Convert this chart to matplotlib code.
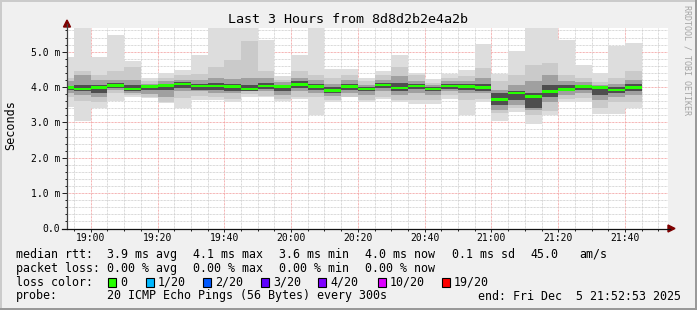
import numpy as np
import pandas as pd
import matplotlib
matplotlib.use('Agg')
import matplotlib.pyplot as plt
import matplotlib.dates as mdates
from matplotlib.patches import Rectangle, Polygon
from matplotlib.lines import Line2D
from matplotlib.ticker import MultipleLocator, FuncFormatter

plt.rcParams['font.family'] = ['DejaVu Sans Mono']

W, H = 697, 310

# ── data (ms) ──────────────────────────────────────────────
# 5-minute bins, start of each bin
bin_start = pd.date_range('2025-12-05 18:50', periods=35, freq='5min')
t_start = pd.Timestamp('2025-12-05 18:52:53')
t_end = pd.Timestamp('2025-12-05 21:52:53')

rtt_max = [4.85, 5.90, 4.85, 5.48, 4.73, 4.25, 4.40, 4.49, 4.91, 5.90,
           5.90, 5.90, 5.34, 4.30, 4.91, 5.90, 4.52, 4.52, 4.27, 4.44,
           4.91, 4.41, 4.24, 4.37, 4.49, 5.23, 4.37, 5.03, 5.90, 5.90,
           5.34, 4.61, 4.40, 5.17, 5.25]
rtt_min = [3.45, 3.03, 3.40, 3.61, 3.73, 3.69, 3.54, 3.42, 3.64, 3.64,
           3.57, 3.73, 3.73, 3.61, 3.67, 3.20, 3.57, 3.71, 3.57, 3.67,
           3.59, 3.53, 3.53, 3.67, 3.20, 3.57, 3.03, 3.29, 2.95, 3.20,
           3.59, 3.59, 3.24, 3.24, 3.42]
band2_hi = [4.25, 4.46, 4.35, 4.46, 4.58, 4.16, 4.25, 4.35, 4.37, 4.58,
            4.77, 5.29, 4.44, 4.21, 4.46, 4.35, 4.25, 4.35, 4.16, 4.35,
            4.58, 4.35, 4.11, 4.25, 4.30, 4.54, 4.16, 4.35, 4.63, 4.68,
            4.35, 4.25, 4.14, 4.25, 4.44]
band2_lo = [3.73, 3.61, 3.57, 3.83, 3.78, 3.73, 3.59, 3.69, 3.76, 3.73,
            3.67, 3.80, 3.76, 3.67, 3.71, 3.73, 3.64, 3.73, 3.64, 3.73,
            3.64, 3.64, 3.64, 3.78, 3.64, 3.67, 3.26, 3.40, 3.22, 3.31,
            3.67, 3.69, 3.42, 3.59, 3.59]
band3_hi = [4.16, 4.35, 4.21, 4.21, 4.21, 4.08, 4.16, 4.21, 4.21, 4.25,
            4.24, 4.25, 4.25, 4.14, 4.27, 4.21, 4.08, 4.19, 4.07, 4.21,
            4.30, 4.16, 4.05, 4.16, 4.16, 4.25, 3.92, 4.07, 4.16, 4.35,
            4.16, 4.14, 4.05, 4.08, 4.21]
band3_lo = [3.83, 3.78, 3.73, 3.92, 3.83, 3.80, 3.73, 3.88, 3.88, 3.83,
            3.83, 3.88, 3.88, 3.78, 3.88, 3.83, 3.76, 3.83, 3.78, 3.88,
            3.78, 3.83, 3.78, 3.88, 3.83, 3.83, 3.36, 3.50, 3.36, 3.59,
            3.78, 3.83, 3.64, 3.73, 3.78]
core_hi = [4.04, 4.07, 4.07, 4.11, 4.07, 4.05, 4.08, 4.14, 4.08, 4.11,
           4.08, 4.07, 4.11, 4.07, 4.16, 4.08, 3.99, 4.08, 4.01, 4.11,
           4.11, 4.08, 4.01, 4.08, 4.08, 4.08, 3.83, 3.88, 3.83, 4.05,
           4.07, 4.07, 3.99, 3.99, 4.08]
core_lo = [3.92, 3.88, 3.83, 3.97, 3.90, 3.92, 3.92, 3.97, 3.92, 3.92,
           3.90, 3.90, 3.95, 3.88, 3.97, 3.92, 3.83, 3.92, 3.88, 3.97,
           3.88, 3.95, 3.88, 3.95, 3.92, 3.90, 3.50, 3.64, 3.40, 3.73,
           3.88, 3.92, 3.78, 3.83, 3.90]
median = [3.99, 3.95, 3.99, 4.05, 3.95, 4.01, 4.05, 4.09, 4.03, 4.03,
          4.01, 3.95, 4.03, 4.01, 4.07, 4.01, 3.90, 4.01, 3.95, 4.06,
          3.97, 4.03, 3.95, 4.03, 4.01, 3.99, 3.65, 3.83, 3.73, 3.88,
          3.93, 4.01, 3.99, 3.92, 3.99]

loss_labels = ['0', '1/20', '2/20', '3/20', '4/20', '10/20', '19/20']
loss_colors = ['#26ff00', '#00b8ff', '#0059ff', '#5e00ff', '#7e00ff', '#dd00ff', '#ff0000']


def fx(x):
    return x / W


def fy(y):
    return 1 - y / H


def ftext(x, y, s, **kw):
    fig.text(fx(x), fy(y), s, **kw)


fig = plt.figure(figsize=(W / 100, H / 100), dpi=100, facecolor='#f0f0f0')

# shaded frame
for (x0, y0, w, h, c) in [(0, 0, W, 2, '#cbcbcb'), (0, 0, 2, H, '#cbcbcb'),
                          (0, H - 2, W, 2, '#999999'), (W - 2, 0, 2, H, '#999999')]:
    fig.add_artist(Rectangle((fx(x0), fy(y0 + h)), w / W, h / H,
                             transform=fig.transFigure, color=c, lw=0))

ax_l, ax_r, ax_t, ax_b = 67, 668, 28, 228.5
ax = fig.add_axes([fx(ax_l), fy(ax_b), (ax_r - ax_l) / W, (ax_b - ax_t) / H])
ax.set_facecolor('white')
for s in ax.spines.values():
    s.set_visible(False)

bw = 5 / 1440
bands = [(rtt_min, rtt_max, '#dddddd'),
         (band2_lo, band2_hi, '#cacaca'),
         (band3_lo, band3_hi, '#a0a0a0'),
         (core_lo, core_hi, '#4e4e4e')]
for lo, hi, col in bands:
    lo, hi = np.array(lo), np.array(hi)
    ax.bar(bin_start, hi - lo, bottom=lo, width=bw, align='edge',
           color=col, linewidth=0, antialiased=False, zorder=2)

half = 0.036
ax.bar(bin_start, 2 * half, bottom=np.array(median) - half, width=bw, align='edge',
       color=loss_colors[0], linewidth=0, antialiased=False, zorder=3)

ax.set_xlim(t_start, t_end)
ax.set_ylim(0, 5.67)
ax.xaxis.set_major_locator(mdates.MinuteLocator(byminute=[0, 20, 40]))
ax.xaxis.set_minor_locator(mdates.MinuteLocator(byminute=range(0, 60, 5)))
ax.xaxis.set_major_formatter(mdates.DateFormatter('%H:%M'))
ax.yaxis.set_major_locator(MultipleLocator(1.0))
ax.yaxis.set_minor_locator(MultipleLocator(0.2))
ax.yaxis.set_major_formatter(FuncFormatter(lambda v, p: '0.0' if v == 0 else f'{v:.1f} m'))

ax.set_axisbelow(True)
ax.grid(which='minor', color='#cccccc', linewidth=0.72, linestyle=(0, (0.72, 0.72)))
ax.grid(which='major', color='#f29a9a', linewidth=0.72, linestyle=(0, (0.72, 0.72)))

ax.tick_params(axis='x', which='major', length=2.2, width=0.72, pad=1.0, labelsize=7, color='#222222')
ax.tick_params(axis='x', which='minor', length=1.4, width=0.72, color='#222222')
ax.tick_params(axis='y', which='major', length=3.6, width=0.72, pad=1.4, labelsize=7, color='#222222')
ax.tick_params(axis='y', which='minor', length=1.4, width=0.72, color='#222222')

# axis lines and arrows
fig.add_artist(Line2D([fx(67), fx(67)], [fy(228.5), fy(24)], color='#404040', lw=0.9,
                      transform=fig.transFigure))
fig.add_artist(Line2D([fx(62), fx(670)], [fy(228.5), fy(228.5)], color='#111111', lw=0.9,
                      transform=fig.transFigure))
fig.add_artist(Polygon([(fx(67), fy(20)), (fx(63.5), fy(27)), (fx(70.5), fy(27))],
                       closed=True, color='#7f0000', transform=fig.transFigure))
fig.add_artist(Polygon([(fx(675), fy(228.5)), (fx(668), fy(225)), (fx(668), fy(232))],
                       closed=True, color='#7f0000', transform=fig.transFigure))

# texts
ftext(347.5, 23.3, 'Last 3 Hours from 8d8d2b2e4a2b', ha='center', va='baseline', fontsize=9.6)
ftext(11, 125, 'Seconds', rotation=90, ha='center', va='center', fontsize=8.5)
ftext(687, 5, 'RRDTOOL / TOBI OETIKER', rotation=-90, ha='center', va='top',
      fontsize=6, color='#a4a4a4')

fs = 8.35
rows = [
    (257.7, [(16, 'median rtt:'), (107, '3.9 ms avg'), (193, '4.1 ms max'),
             (279, '3.6 ms min'), (365, '4.0 ms now'), (452, '0.1 ms sd'),
             (530, '45.0'), (579, 'am/s')]),
    (271.7, [(16, 'packet loss:'), (107, '0.00 % avg'), (193, '0.00 % max'),
             (279, '0.00 % min'), (365, '0.00 % now')]),
    (285.7, [(16, 'loss color:')]),
    (299.5, [(16, 'probe:'), (107, '20 ICMP Echo Pings (56 Bytes) every 300s'),
             (478, 'end: Fri Dec  5 21:52:53 2025')]),
]
for yb, items in rows:
    for x, s in items:
        ftext(x, yb, s, ha='left', va='baseline', fontsize=fs)

box_x = [108, 145.7, 203, 261, 318, 377.7, 442]
for bx, lab, col in zip(box_x, loss_labels, loss_colors):
    fig.add_artist(Rectangle((fx(bx), fy(286.7)), 8 / W, 8.5 / H, transform=fig.transFigure,
                             facecolor=col, edgecolor='black', lw=0.8))
    ftext(bx + 12, 285.7, lab, ha='left', va='baseline', fontsize=fs)

fig.savefig('out.png', dpi=100, facecolor=fig.get_facecolor())
